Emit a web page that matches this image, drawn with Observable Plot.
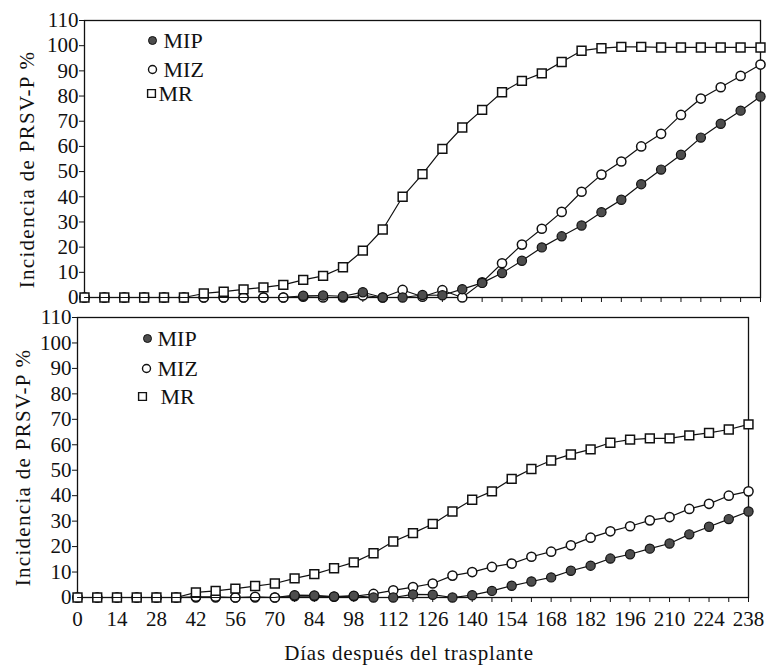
<!DOCTYPE html>
<html><head><meta charset="utf-8">
<script src="https://cdn.jsdelivr.net/npm/d3@7"></script>
<script src="https://cdn.jsdelivr.net/npm/@observablehq/plot@0.6"></script>
<style>
body{margin:0;background:#fff;}
#wrap{position:relative;width:768px;height:672px;background:#fff;}
#wrap svg{position:absolute;left:0;overflow:visible;}
</style></head><body><div id="wrap"></div>
<script>
// Days after transplant (sampling every 7 days)
const days = [0,7,14,21,28,35,42,49,56,63,70,77,84,91,98,105,112,119,126,133,140,147,154,161,168,175,182,189,196,203,210,217,224,231,238];
const xTickLabels = [0,14,28,42,56,70,84,98,112,126,140,154,168,182,196,210,224,238];
const yTicks = [0,10,20,30,40,50,60,70,80,90,100,110];
const seriesNames = ["MIP","MIZ","MR"];
const yTitle = "Incidencia de PRSV-P %";
const xTitle = "Días después del trasplante";

// Top panel
const topMIP = [0,0,0,0,0,0,0,0,0,0,0,0.7,0.8,0.5,2.1,0,0,1,0.9,3.3,5.8,9.7,14.6,19.9,24.3,28.6,33.9,38.8,45,50.8,56.7,63.5,69,74.2,79.8];
const topMIZ = [0,0,0,0,0,0,0,0,0,0,0,0.3,0,0,0.8,0,3,0.3,2.9,0,6,13.6,21,27.3,34,42,48.8,54,60,65,72.5,79,83.5,88,92.5];
const topMR  = [0,0,0,0,0,0,1.6,2.3,3.2,4.0,5.0,7.0,8.6,12,18.6,27,40,49,59,67.5,74.5,81.5,86,89,93.5,98,99,99.5,99.5,99.3,99.3,99.3,99.3,99.3,99.3];

// Bottom panel
const botMIP = [0,0,0,0,0,0,0,0,0,0,0,0.9,0.8,0.4,0.7,0,0,1.2,1.1,0,0.9,2.6,4.6,6.3,7.9,10.5,12.5,15.3,17,19.2,21.2,24.8,27.8,30.8,33.8];
const botMIZ = [0,0,0,0,0,0,0.3,0.3,0,0.3,0,0.5,0.5,0.3,0.5,1.4,2.8,4.1,5.5,8.6,10,12,13.3,16,18,20.5,23.5,26,28,30.3,31.6,34.8,36.8,40,41.7];
const botMR  = [0,0,0,0,0,0,2,2.6,3.5,4.5,5.5,7.5,9.2,11.5,13.8,17.4,22,25.3,28.9,33.8,38.4,41.7,46.6,50.5,53.8,56.2,58.2,60.8,62,62.5,62.5,63.7,64.7,66,68];

const INK = "#111";
const GREY = "#4d4d4d";

function rows(vals){ return days.map((d,i)=>({day:d, value:vals[i]})); }

function panel(mip, miz, mr, o){
  const rMIP = rows(mip), rMIZ = rows(miz), rMR = rows(mr);
  const lg = o.legend;
  const legText = (i) => Plot.text([seriesNames[i]], {frameAnchor: "top-left", text: d => d, dx: lg[i][2], dy: lg[i][1], textAnchor: "start", lineAnchor: "middle", fontSize: 22, fill: INK});
  const early = d => d.day < 77;
  const late = d => d.day >= 77;
  const marks = [
    Plot.frame({stroke: INK, strokeWidth: 1.3}),
    Plot.axisY({ticks: yTicks, tickSize: 5, tickPadding: 1, label: null, fontSize: 21, stroke: INK}),
    Plot.axisX({ticks: days, tickSize: 5, tickFormat: () => "", label: null, stroke: INK}),
    // MIP (early points lie under the other series)
    Plot.dot(rMIP, {filter: early, x: "day", y: "value", r: 4.6, fill: GREY, stroke: INK, strokeWidth: 1.2}),
    // MIZ
    Plot.line(rMIZ, {x: "day", y: "value", stroke: INK, strokeWidth: 1.2}),
    Plot.dot(rMIZ, {x: "day", y: "value", r: 4.6, fill: "white", stroke: INK, strokeWidth: 1.5}),
    // MR
    Plot.line(rMR, {x: "day", y: "value", stroke: INK, strokeWidth: 1.2}),
    Plot.dot(rMR, {x: "day", y: "value", symbol: "square", r: 5, fill: "white", stroke: INK, strokeWidth: 1.5}),
    // MIP line and later points on top
    Plot.line(rMIP, {x: "day", y: "value", stroke: INK, strokeWidth: 1.2}),
    Plot.dot(rMIP, {filter: late, x: "day", y: "value", r: 4.6, fill: GREY, stroke: INK, strokeWidth: 1.2}),
    // legend
    Plot.dot([seriesNames[0]], {frameAnchor: "top-left", dx: lg[0][0], dy: lg[0][1], r: 4, fill: GREY, stroke: INK, strokeWidth: 1}),
    Plot.dot([seriesNames[1]], {frameAnchor: "top-left", dx: lg[1][0], dy: lg[1][1], r: 4, fill: "white", stroke: INK, strokeWidth: 1.4}),
    Plot.dot([seriesNames[2]], {frameAnchor: "top-left", dx: lg[2][0], dy: lg[2][1], symbol: "square", r: 4.4, fill: "white", stroke: INK, strokeWidth: 1.4}),
    legText(0), legText(1), legText(2),
    // y title
    Plot.text([yTitle], {frameAnchor: "left", text: d => d, rotate: -90, textAnchor: "middle", lineAnchor: "middle", dx: o.yt[0], dy: o.yt[1], fontSize: 21, fill: INK})
  ];
  if (o.labels) {
    marks.push(Plot.axisX({ticks: xTickLabels, tickSize: 0, tickPadding: 14, label: null, fontSize: 21, fill: INK}));
    marks.push(Plot.text([xTitle], {frameAnchor: "bottom", text: d => d, textAnchor: "middle", lineAnchor: "middle", dx: -4, dy: 56, fontSize: 21, fill: INK}));
  }
  const svg = Plot.plot({
    width: 768, height: o.height,
    marginLeft: o.ml, marginRight: o.mr, marginTop: o.mt, marginBottom: o.mb,
    x: {domain: [0, 238]},
    y: {domain: [0, 110]},
    style: {fontFamily: "'Liberation Serif', 'DejaVu Serif', serif", fontSize: "21px", background: "transparent", color: INK},
    marks
  });
  svg.style.top = o.top + "px";
  svg.querySelectorAll("text").forEach(t => {
    if (t.textContent === yTitle) t.style.letterSpacing = "1.3px";
    if (t.textContent === xTitle) t.style.letterSpacing = "0.8px";
  });
  return svg;
}

const wrap = document.getElementById("wrap");
wrap.appendChild(panel(topMIP, topMIZ, topMR, {
  top: 0, height: 305, ml: 84, mr: 8, mt: 20, mb: 8, labels: false,
  legend: [[68, 20, 79], [68, 49, 79], [67, 73, 74]],
  yt: [-57, 10.5]
}));
wrap.appendChild(panel(botMIP, botMIZ, botMR, {
  top: 300, height: 372, ml: 77, mr: 20, mt: 17, mb: 75, labels: true,
  legend: [[70, 21, 80], [69, 51, 80], [65, 79, 83]],
  yt: [-54, 10]
}));
</script></body></html>
